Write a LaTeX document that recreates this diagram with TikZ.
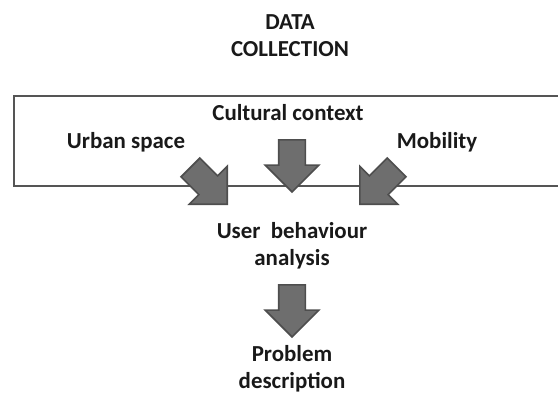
\documentclass[tikz,border=0pt]{standalone}
\usepackage{fontspec}
\setmainfont{Carlito}
\usetikzlibrary{shapes.arrows}

\definecolor{arrowfill}{HTML}{6E6E6E}
\definecolor{arrowline}{HTML}{4E4E4E}
\definecolor{frameline}{HTML}{555555}

\tikzset{
  label/.style={font=\bfseries\fontsize{23}{27}\selectfont, text=black!90,
                align=center, inner sep=0pt},
  blockarrow/.style={single arrow, draw=arrowline, fill=arrowfill,
                     line width=1.6bp, inner xsep=0pt, inner ysep=12.5bp,
                     minimum height=52bp, single arrow head extend=13.5bp,
                     anchor=tip}
}

\begin{document}
\begin{tikzpicture}[x=1bp, y=-1bp, line cap=round]
\useasboundingbox (0,0) rectangle (558,394);

% frame round the collected data (open on the right)
\draw [frameline, line width=1.4bp] (14,96) rectangle (565,186);

\node [label] (title) at (290,36) {DATA\\COLLECTION};
\node [label] (culture) at (288,113) {Cultural context};
\node [label] (urban) at (126,142) {Urban space};
\node [label] (mobility) at (437,142) {Mobility};
\node [label] (behaviour) at (292,246) {User\ \ behaviour\\analysis};
\node [label] (problem) at (292,369) {Problem\\description};

% block arrows
\node [blockarrow, rotate=-45] (urbanarrow) at (228,205) {};
\node [blockarrow, rotate=-90] (culturearrow) at (292,193) {};
\node [blockarrow, rotate=-135] (mobilityarrow) at (359,205) {};
\node [blockarrow, rotate=-90] (problemarrow) at (292,338) {};
\end{tikzpicture}
\end{document}
